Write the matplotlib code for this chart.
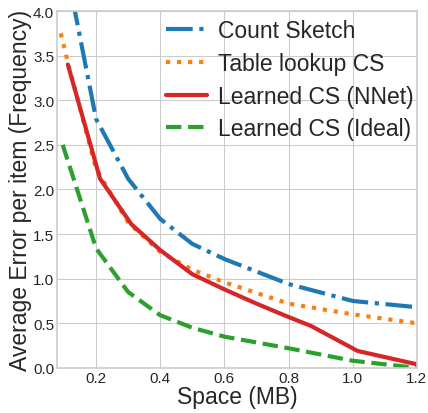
import matplotlib
matplotlib.use("Agg")
import matplotlib.pyplot as plt

plt.style.use("seaborn-v0_8-whitegrid")
plt.rcParams['font.family'] = ['Liberation Sans', 'DejaVu Sans']

# Data
cs_x = [0.10, 0.134, 0.20, 0.30, 0.40, 0.50, 0.60, 0.80, 1.00, 1.20]
cs_y = [4.62, 4.00, 2.79, 2.12, 1.67, 1.39, 1.22, 0.94, 0.75, 0.68]

tl_x = [0.09, 0.113, 0.20, 0.30, 0.40, 0.50, 0.60, 0.80, 1.00, 1.20]
tl_y = [3.75, 3.41, 2.23, 1.63, 1.30, 1.10, 0.96, 0.72, 0.60, 0.50]

nn_x = [0.112, 0.2125, 0.31, 0.40, 0.50, 0.60, 0.70, 0.80, 0.87, 1.015, 1.20]
nn_y = [3.40, 2.12, 1.61, 1.32, 1.05, 0.88, 0.72, 0.57, 0.47, 0.19, 0.04]

id_x = [0.096, 0.20, 0.30, 0.40, 0.50, 0.60, 0.80, 1.00, 1.20]
id_y = [2.50, 1.34, 0.85, 0.59, 0.45, 0.35, 0.22, 0.08, 0.00]

labels = ["Count Sketch", "Table lookup CS", "Learned CS (NNet)", "Learned CS (Ideal)"]
xticks = [0.2, 0.4, 0.6, 0.8, 1.0, 1.2]
yticks = [0.0, 0.5, 1.0, 1.5, 2.0, 2.5, 3.0, 3.5, 4.0]

fig = plt.figure(figsize=(4.28, 4.14), dpi=100)
ax = fig.add_axes([0.133, 0.109, 0.841, 0.862])

ax.plot(cs_x, cs_y, color="#1f77b4", linestyle="-.", linewidth=3, label=labels[0])
ax.plot(tl_x, tl_y, color="#ff7f0e", linestyle=":", linewidth=3, label=labels[1])
ax.plot(nn_x, nn_y, color="#d62728", linestyle="-", linewidth=3, label=labels[2])
ax.plot(id_x, id_y, color="#2ca02c", linestyle="--", linewidth=3, label=labels[3])

ax.set_xlim(0.078, 1.2)
ax.set_ylim(0.0, 4.0)
ax.set_xticks(xticks)
ax.set_yticks(yticks)
ax.set_xticklabels([f"{v:.1f}" for v in xticks])
ax.set_yticklabels([f"{v:.1f}" for v in yticks])
ax.tick_params(labelsize=11, colors="#262626", pad=2)
for s in ax.spines.values():
    s.set_visible(True)
    s.set_color("#cccccc")
    s.set_linewidth(1.2)

ax.set_xlabel("Space (MB)", fontsize=16.5, color="#262626", labelpad=0)
ax.set_ylabel("Average Error per item (Frequency)", fontsize=16.5, color="#262626", labelpad=1)

ax.legend(loc="upper right", bbox_to_anchor=(1.0, 0.986), fontsize=16.5, frameon=False,
          handlelength=1.8, borderaxespad=0.05, borderpad=0.1, labelspacing=0.42,
          handletextpad=0.45)

fig.savefig("out.png", dpi=100)
